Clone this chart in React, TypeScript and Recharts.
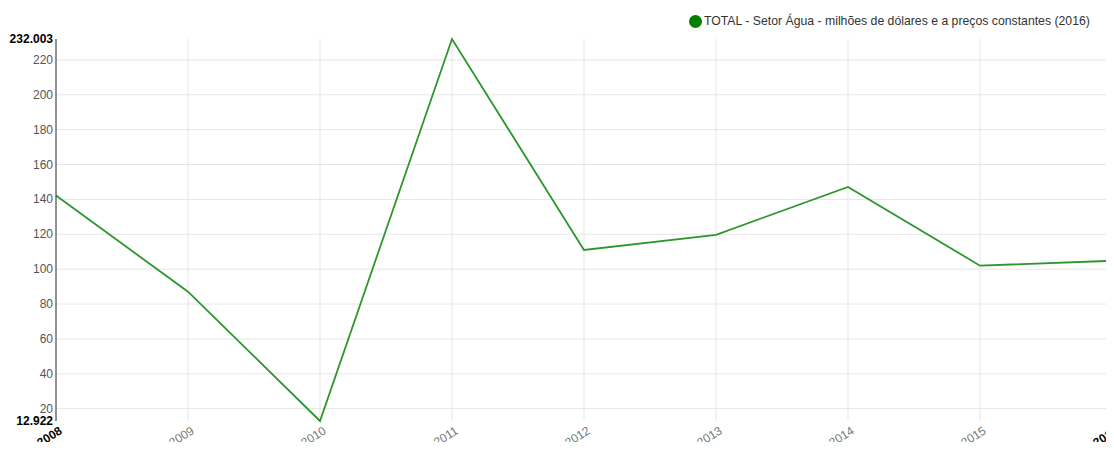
import React from 'react';
import { LineChart, Line, XAxis, YAxis, CartesianGrid } from 'recharts';

const years = ['2008', '2009', '2010', '2011', '2012', '2013', '2014', '2015', '2016'];
const totalAgua = [142.2, 87.1, 12.922, 232.003, 111.0, 119.7, 147.2, 102.0, 104.8];
const yTicks = [12.922, 20, 40, 60, 80, 100, 120, 140, 160, 180, 200, 220, 232.003];
const gridValues = [20, 40, 60, 80, 100, 120, 140, 160, 180, 200, 220];

const seriesName = 'TOTAL - Setor Água - milhões de dólares e a preços constantes (2016)';

const data = years.map((year, i) => ({ year, value: totalAgua[i] }));

const font = '"Liberation Sans", Arial, sans-serif';

const YTick = (props: any) => {
  const { x, y, payload } = props;
  const extreme = payload.value === yTicks[0] || payload.value === yTicks[yTicks.length - 1];
  return (
    <text
      x={x + 5}
      y={y}
      dy={4}
      textAnchor="end"
      fontFamily={font}
      fontSize={12}
      fontWeight={extreme ? 'bold' : 'normal'}
      fill={extreme ? '#000' : '#555'}
    >
      {extreme ? payload.value.toFixed(3) : payload.value}
    </text>
  );
};

const XTick = (props: any) => {
  const { x, y, payload, index } = props;
  const edge = index === 0 || index === years.length - 1;
  return (
    <text
      transform={`translate(${x + 7},${y + 4}) rotate(-32)`}
      textAnchor="end"
      fontFamily={font}
      fontSize={12}
      fontWeight={edge ? 'bold' : 'normal'}
      fill={edge ? '#000' : '#777'}
    >
      {payload.value}
    </text>
  );
};

export default function App() {
  return (
    <div style={{ margin: -8, position: 'relative', width: 1114, height: 450, background: '#fff' }}>
      <div
        style={{
          position: 'absolute',
          top: 14,
          left: 689,
          display: 'flex',
          alignItems: 'center',
          fontFamily: font,
          fontSize: 12.25,
          color: '#333',
          whiteSpace: 'nowrap',
        }}
      >
        <span
          style={{
            display: 'inline-block',
            width: 13,
            height: 13,
            borderRadius: '50%',
            background: '#008000',
            marginRight: 2,
          }}
        />
        {seriesName}
      </div>
      <LineChart width={1114} height={450} data={data} margin={{ top: 39, right: 2, bottom: 0, left: 0 }}>
        <CartesianGrid stroke="#e6e6e6" horizontalValues={gridValues} />
        <XAxis
          dataKey="year"
          axisLine={false}
          tickLine={false}
          height={29}
          interval={0}
          tick={<XTick />}
        />
        <YAxis
          type="number"
          domain={[12.922, 232.003]}
          ticks={yTicks}
          interval={0}
          width={56}
          axisLine={{ stroke: '#333' }}
          tickLine={false}
          tick={<YTick />}
        />
        <Line
          type="linear"
          dataKey="value"
          name={seriesName}
          stroke="#2e962e"
          strokeWidth={1.8}
          dot={false}
          isAnimationActive={false}
        />
      </LineChart>
    </div>
  );
}
